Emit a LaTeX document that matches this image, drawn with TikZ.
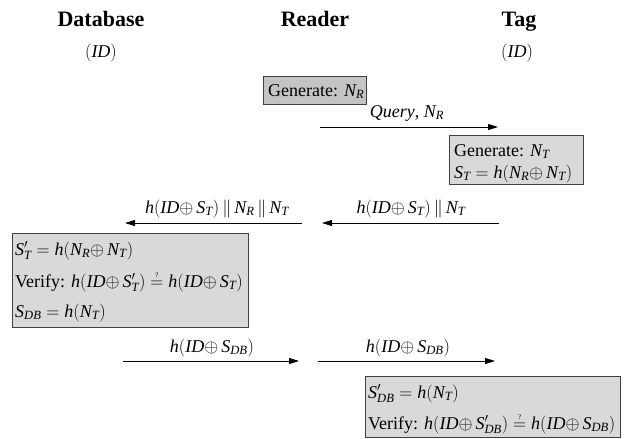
\RequirePackage{fix-cm}
\documentclass[tikz,border=0pt]{standalone}
\usepackage{fontspec}
\setmainfont{Liberation Serif}
\usetikzlibrary{arrows.meta}
\edef\mytmp{\noexpand\DeclareSymbolFont{lsit}{TU}{\rmdefault}{m}{it}}\mytmp
\edef\mytmp{\noexpand\DeclareSymbolFont{lsup}{TU}{\rmdefault}{m}{n}}\mytmp
\DeclareMathSymbol{h}{\mathalpha}{lsit}{`h}
\DeclareMathSymbol{I}{\mathalpha}{lsit}{`I}
\DeclareMathSymbol{D}{\mathalpha}{lsit}{`D}
\DeclareMathSymbol{S}{\mathalpha}{lsit}{`S}
\DeclareMathSymbol{T}{\mathalpha}{lsit}{`T}
\DeclareMathSymbol{N}{\mathalpha}{lsit}{`N}
\DeclareMathSymbol{R}{\mathalpha}{lsit}{`R}
\DeclareMathSymbol{B}{\mathalpha}{lsit}{`B}
\DeclareMathSymbol{=}{\mathrel}{lsup}{`=}
\DeclareMathSymbol{(}{\mathopen}{lsup}{`(}
\DeclareMathSymbol{)}{\mathclose}{lsup}{`)}
\newcommand{\qeq}{\mathrel{\mathop{=}\limits^{\raisebox{1.5pt}{\fontsize{7}{7}\selectfont ?}}}}
\newcommand{\xo}{\mathord{\oplus}\,}
\definecolor{boxfill}{HTML}{D9D9D9}
\definecolor{boxfilldark}{HTML}{C4C4C4}
\definecolor{boxline}{HTML}{404040}
\begin{document}
\begin{tikzpicture}[x=1pt,y=-1pt,
  every node/.style={font=\fontsize{18}{20}\selectfont, inner sep=0pt},
  head/.style={font=\fontsize{22}{24}\selectfont\bfseries, anchor=base},
  procbox/.style={draw=boxline, fill=boxfill, line width=1.3pt, anchor=north west},
  line/.style={anchor=base west},
  lbl/.style={anchor=base},
  msg/.style={line width=0.9pt, -{Triangle[length=10pt,width=6pt]}}]
\useasboundingbox (0,0) rectangle (627,439);
% headers
\node[head] (hdb) at (101,26) {Database};
\node[head] (hrd) at (315,26) {Reader};
\node[head] (htg) at (519,26) {Tag};
\node[lbl] (iddb) at (101,57) {$(ID)$};
\node[lbl] (idtg) at (517,57) {$(ID)$};
% Reader generate
\node[procbox, fill=boxfilldark, minimum width=103pt, minimum height=28pt] (gr) at (263,76) {};
\node[line] (grt) at (268,96) {Generate: $N_R$};
% query
\coordinate (q1) at (320,127);
\coordinate (q2) at (498,127);
\draw[msg] (q1) -- (q2);
\node[lbl] (ql) at (407,117) {\textit{Query}, $N_R$};
% tag box
\node[procbox, minimum width=134pt, minimum height=49pt] (tb) at (449,135) {};
\node[line] (tb1) at (454,156) {Generate: $N_T$};
\node[line] (tb2) at (454,178) {$S_T = h(N_R \xo N_T)$};
% tag -> reader
\coordinate (a1) at (499,223);
\coordinate (a2) at (322,223);
\draw[msg] (a1) -- (a2);
\node[lbl] (al) at (411,213) {$h(ID\xo S_T)\,\|\,N_T$};
% reader -> db
\coordinate (b1) at (302,223);
\coordinate (b2) at (125,223);
\draw[msg] (b1) -- (b2);
\node[lbl] (bl) at (217,213) {$h(ID\xo S_T)\,\|\,N_R\,\|\,N_T$};
% db box
\node[procbox, minimum width=236pt, minimum height=94pt] (db) at (12,233) {};
\node[line] (db1) at (15,255) {$S'_T = h(N_R \xo N_T)$};
\node[line] (db2) at (15,287) {Verify: $h(ID\xo S'_T) \qeq h(ID\xo S_T)$};
\node[line] (db3) at (15,317) {$S_{DB} = h(N_T)$};
% db -> reader
\coordinate (c1) at (123,361);
\coordinate (c2) at (299,361);
\draw[msg] (c1) -- (c2);
\node[lbl] (cl) at (212,352) {$h(ID\xo S_{DB})$};
% reader -> tag
\coordinate (d1) at (318,361);
\coordinate (d2) at (495,361);
\draw[msg] (d1) -- (d2);
\node[lbl] (dl) at (408,352) {$h(ID\xo S_{DB})$};
% bottom tag box
\node[procbox, minimum width=255pt, minimum height=61pt] (tb3) at (365,376) {};
\node[line] (tb31) at (368,398) {$S'_{DB} = h(N_T)$};
\node[line] (tb32) at (368,429) {Verify: $h(ID\xo S'_{DB}) \qeq h(ID\xo S_{DB})$};
\end{tikzpicture}
\end{document}
